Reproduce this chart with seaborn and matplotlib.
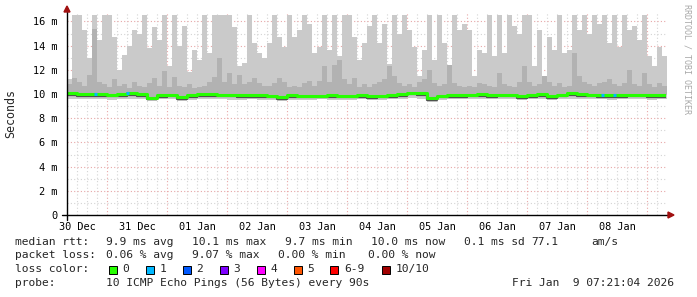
import numpy as np
import matplotlib
matplotlib.use("Agg")
import matplotlib.pyplot as plt
import matplotlib.transforms as mtrans
from matplotlib.patches import Rectangle, Polygon
import seaborn as sns

# ---------------- data (hours after 30 Dec 00:00, values in ms) ----------------
start_hour = 8.0
end_hour = 247.6
smoke_step = 2.0
median_step = 4.0

max_ms = [11.2, 16.5, 16.5, 15.3, 13.0, 16.5, 14.5, 16.5, 16.5, 14.7, 12.0, 13.2, 14.0, 15.3, 15.0, 16.5, 13.8, 15.5, 14.5, 16.5,
          12.3, 16.5, 14.0, 15.6, 11.8, 13.6, 12.8, 16.5, 13.4, 16.5, 16.5, 16.5, 16.5, 15.5, 12.3, 12.6, 16.5, 14.2, 13.4, 13.0,
          14.2, 16.5, 14.7, 13.9, 16.5, 14.7, 15.3, 16.5, 15.8, 13.4, 13.9, 16.5, 13.6, 16.5, 13.1, 16.5, 16.5, 14.7, 12.8, 14.2,
          15.6, 16.5, 14.2, 15.8, 12.5, 16.5, 15.0, 16.5, 15.3, 13.9, 11.5, 13.6, 16.5, 12.8, 16.5, 14.2, 11.7, 16.5, 15.3, 15.8,
          15.3, 11.5, 13.6, 13.4, 16.5, 13.1, 16.5, 13.4, 16.5, 15.6, 15.0, 16.5, 16.5, 12.3, 15.3, 11.5, 14.7, 13.6, 16.5, 13.4,
          13.6, 16.5, 15.3, 16.5, 15.0, 16.5, 15.8, 16.5, 14.2, 16.5, 13.9, 16.5, 15.3, 15.6, 14.5, 16.5, 13.1, 12.3, 13.9, 13.1]

upper_ms = [10.8, 11.3, 11.0, 10.7, 11.6, 15.4, 11.0, 10.8, 10.6, 11.2, 10.7, 10.8, 10.5, 11.0, 10.7, 10.6, 10.9, 11.3, 10.7, 11.9,
            10.6, 11.4, 10.7, 10.6, 10.8, 10.5, 10.6, 10.7, 11.0, 11.4, 13.0, 11.0, 11.7, 10.8, 11.6, 10.8, 11.0, 11.3, 10.9, 10.7,
            10.7, 10.9, 11.3, 11.0, 10.6, 10.7, 10.6, 10.9, 11.1, 10.7, 11.1, 12.3, 11.0, 12.4, 12.8, 11.2, 10.8, 11.3, 10.6, 10.8,
            10.6, 10.8, 11.0, 11.2, 12.3, 11.5, 10.9, 10.7, 10.8, 10.6, 11.0, 11.2, 12.0, 10.9, 10.7, 10.8, 12.4, 10.9, 10.7, 10.6,
            10.7, 10.6, 10.9, 10.8, 10.7, 10.6, 11.7, 10.8, 10.7, 10.6, 11.0, 12.3, 11.0, 10.7, 10.8, 11.5, 11.0, 10.7, 10.9, 10.6,
            10.7, 13.4, 11.5, 11.0, 10.8, 10.7, 10.9, 11.0, 11.2, 10.8, 10.7, 10.9, 12.0, 10.8, 10.7, 11.7, 10.8, 10.6, 10.9, 10.7]

median_ms = [10.05, 10.0, 10.0, 10.0, 9.95, 10.0, 10.05, 10.0, 9.7, 9.9,
             9.95, 9.75, 9.9, 10.0, 10.0, 9.95, 9.95, 9.9, 9.9, 9.9,
             9.85, 9.75, 9.9, 9.85, 9.85, 9.85, 9.9, 9.85, 9.85, 9.9,
             9.8, 9.85, 9.9, 10.0, 10.1, 10.05, 9.65, 9.85, 9.9, 9.9,
             9.95, 10.0, 9.9, 9.95, 9.95, 9.8, 9.9, 10.0, 9.8, 9.95,
             10.05, 10.0, 9.95, 9.9, 9.9, 9.9, 9.95, 9.95, 9.9, 9.9]

low_ms = [9.55, 9.6, 9.55, 9.55, 9.5, 9.55, 9.6, 9.55, 9.4, 9.55,
          9.55, 9.45, 9.5, 9.55, 9.6, 9.55, 9.5, 9.5, 9.55, 9.5,
          9.5, 9.45, 9.5, 9.5, 9.5, 9.55, 9.5, 9.5, 9.5, 9.55,
          9.5, 9.5, 9.55, 9.6, 9.65, 9.6, 9.35, 9.5, 9.55, 9.55,
          9.55, 9.6, 9.55, 9.55, 9.55, 9.5, 9.55, 9.6, 9.5, 9.55,
          9.6, 9.6, 9.55, 9.55, 9.5, 9.55, 9.55, 9.55, 9.5, 9.55]

loss_hours = [19.5, 32.0, 222.0, 227.0]
loss_level = [1, 1, 1, 1]

day_labels = ["30 Dec", "31 Dec", "01 Jan", "02 Jan", "03 Jan", "04 Jan", "05 Jan", "06 Jan", "07 Jan", "08 Jan"]
y_ticks_ms = [0, 2, 4, 6, 8, 10, 12, 14, 16]
y_tick_labels = ["0", "2 m", "4 m", "6 m", "8 m", "10 m", "12 m", "14 m", "16 m"]

loss_names = ["0", "1", "2", "3", "4", "5", "6-9", "10/10"]
loss_colors = ["#26ff00", "#00b8ff", "#0059ff", "#7e00ff", "#ff00ff", "#ff5500", "#ff0000", "#a10000"]

rtt_stats = ["9.9 ms avg", "10.1 ms max", "9.7 ms min", "10.0 ms now", "0.1 ms sd", "77.1", "am/s"]
loss_stats = ["0.06 % avg", "9.07 % max", "0.00 % min", "0.00 % now"]
probe_text = "10 ICMP Echo Pings (56 Bytes) every 90s"
stamp_text = "Fri Jan  9 07:21:04 2026"

# ---------------- style ----------------
sns.set_style("white")
plt.rcParams['font.family'] = ['DejaVu Sans Mono', 'DejaVu Sans']

W, H = 697, 297
fig = plt.figure(figsize=(W / 100, H / 100), dpi=100)
fig.patch.set_facecolor("white")
ax_l, ax_r, ax_t, ax_b = 67, 666, 12, 215
ax = fig.add_axes([ax_l / W, 1 - ax_b / H, (ax_r - ax_l) / W, (ax_b - ax_t) / H])
ax.set_facecolor("white")
ymax = (ax_b - ax_t) / 12.1
ax.set_xlim(start_hour, end_hour)
ax.set_ylim(0, ymax)
for s in ax.spines.values():
    s.set_visible(False)

# grid
minor_col = "#d4d4d4"
major_col = "#e8a8a8"
dots = (0, (1, 2))
for h in np.arange(12, end_hour, 4):
    if h % 24 != 0:
        ax.axvline(h, color=minor_col, lw=0.8, ls=dots, zorder=0)
for h in np.arange(24, end_hour, 24):
    ax.axvline(h, color=major_col, lw=0.8, ls=dots, zorder=0)
for v in range(1, 17, 2):
    ax.axhline(v, color=minor_col, lw=0.8, ls=dots, zorder=0)
for v in y_ticks_ms[1:]:
    ax.axhline(v, color=major_col, lw=0.8, ls=dots, zorder=0)

# smoke
n_s = len(max_ms)
t_s = start_hour + smoke_step * np.arange(n_s + 1)
n_m = len(median_ms)
t_m = start_hour + median_step * np.arange(n_m + 1)
low_on_s = np.repeat(low_ms, int(median_step / smoke_step))
med_on_s = np.repeat(median_ms, int(median_step / smoke_step))

def ext(a):
    a = np.asarray(a, dtype=float)
    return np.append(a, a[-1])

ax.fill_between(t_s, ext(low_on_s), ext(max_ms), step="post", color="#cacaca", lw=0, zorder=1)
ax.fill_between(t_s, ext(med_on_s), ext(upper_ms), step="post", color="#b2b2b2", lw=0, zorder=2)

# median line
dark_tr = mtrans.offset_copy(ax.transData, fig=fig, x=0, y=-1.6, units="dots")
ax.step(t_m, ext(median_ms), where="post", color="#505050", lw=1.6, transform=dark_tr, zorder=3)
sns.lineplot(x=t_m, y=ext(median_ms), drawstyle="steps-post", color=loss_colors[0], lw=2.2, ax=ax, zorder=4)
for h, lv in zip(loss_hours, loss_level):
    i = int((h - start_hour) // median_step)
    ax.hlines(median_ms[i], h - 0.6, h + 0.6, color=loss_colors[lv], lw=2.2, zorder=5)

# ticks
noons = [12 + 24 * i for i in range(len(day_labels))]
ax.set_xticks(noons)
ax.set_xticklabels(day_labels, fontsize=7.4)
ax.tick_params(axis="x", which="major", length=0, pad=5, colors="black")
ax.set_xticks(np.arange(12, end_hour, 4), minor=True)
ax.tick_params(axis="x", which="minor", length=3, width=0.8, direction="inout", color="#a0a0a0")
ax.set_yticks(y_ticks_ms)
ax.set_yticklabels(y_tick_labels, fontsize=7.4)
ax.tick_params(axis="y", length=0, pad=7, colors="black")
ax.set_xlabel("")
ax.set_ylabel("")

# axes lines with arrows
aw, ah = ax_r - ax_l, ax_b - ax_t
ax.plot([-5 / aw, (670 - ax_l) / aw], [0, 0], transform=ax.transAxes, color="black", lw=1, clip_on=False, zorder=6)
ax.plot([0, 0], [-5 / ah, (ax_b - 9) / ah], transform=ax.transAxes, color="black", lw=1, clip_on=False, zorder=6)
arrow_col = "#a01010"
ax.add_patch(Polygon([[(668 - ax_l) / aw, 3 / ah], [(674 - ax_l) / aw, 0], [(668 - ax_l) / aw, -3 / ah]],
                     closed=True, transform=ax.transAxes, color=arrow_col, clip_on=False, zorder=7))
ax.add_patch(Polygon([[-3 / aw, (ax_b - 12) / ah], [0, (ax_b - 6) / ah], [3 / aw, (ax_b - 12) / ah]],
                     closed=True, transform=ax.transAxes, color=arrow_col, clip_on=False, zorder=7))

# side labels
fig.text(11 / W, 1 - 114 / H, "Seconds", rotation=90, ha="center", va="center", fontsize=8.4)
fig.text(687 / W, 1 - 59 / H, "RRDTOOL / TOBI OETIKER", rotation=270, ha="center", va="center",
         fontsize=6.0, color="#a8a8a8")

# legend text
fs = 8.1
def put(x, y, s, **kw):
    fig.text(x / W, 1 - y / H, s, ha="left", va="center", fontsize=fs, **kw)

put(15, 241.7, "median rtt:")
for x, s in zip([106, 192, 285, 371, 464, 531, 591], rtt_stats):
    put(x, 241.7, s)
put(15, 255.2, "packet loss:")
for x, s in zip([106, 192, 278, 368], loss_stats):
    put(x, 255.2, s)
put(15, 269.3, "loss color:")
sq_x = [108.5, 145.5, 182.5, 219.5, 256.5, 293.5, 330, 381.5]
lb_x = [122.5, 159.5, 196.5, 233.5, 270.5, 307.5, 344, 395.5]
for sx, lx, c, nm in zip(sq_x, lb_x, loss_colors, loss_names):
    fig.add_artist(Rectangle((sx / W, 1 - 273.5 / H), 8 / W, 8 / H, transform=fig.transFigure,
                             facecolor=c, edgecolor="black", lw=0.7))
    put(lx, 269.3, nm)
put(15, 282.8, "probe:")
put(106, 282.8, probe_text)
put(512, 282.8, stamp_text)

fig.savefig("out.png", dpi=100, facecolor="white")
